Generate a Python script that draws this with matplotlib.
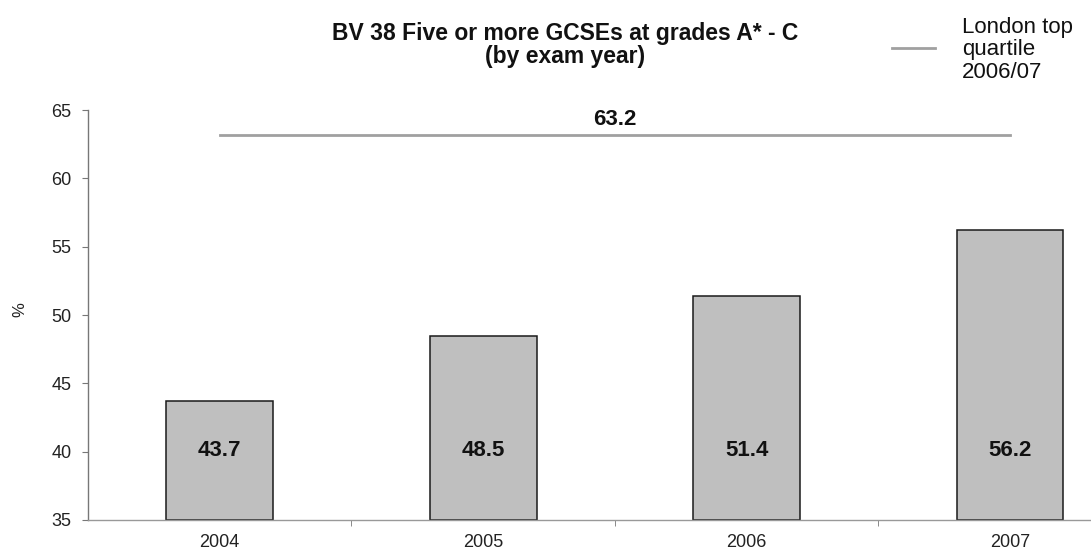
import matplotlib
matplotlib.use("Agg")
import matplotlib.pyplot as plt

plt.rcParams['font.family'] = ['Liberation Sans', 'DejaVu Sans']

years = ["2004", "2005", "2006", "2007"]
values = [43.7, 48.5, 51.4, 56.2]
quartile_value = 63.2
quartile_label = "London top\nquartile\n2006/07"
title = "BV 38 Five or more GCSEs at grades A* - C\n(by exam year)"
y_ticks = [35, 40, 45, 50, 55, 60, 65]

W, H = 1091, 555
fig = plt.figure(figsize=(W / 100, H / 100), dpi=100)
ax = fig.add_axes([88 / W, 35 / H, (W - 88) / W, 410 / H])

x = list(range(len(years)))
ax.bar(x, [v - 35 for v in values], bottom=35, width=0.405,
       color="#bfbfbf", edgecolor="#1a1a1a", linewidth=1.1, zorder=2)
ax.plot(x, [quartile_value] * len(x), color="#a0a0a0", linewidth=2.0, zorder=3)

for xi, v in zip(x, values):
    ax.text(xi, 40.12, f"{v}", ha="center", va="center",
            fontsize=16, fontweight="bold", color="#111111", zorder=4)
ax.text(1.5, quartile_value + 1.1, f"{quartile_value}", ha="center", va="center",
        fontsize=16, fontweight="bold", color="#111111")

ax.set_ylim(35, 65)
ax.set_xlim(-0.5, 3.307)
ax.set_yticks(y_ticks)
ax.set_yticklabels([str(t) for t in y_ticks], fontsize=13, color="#222222")
ax.set_xticks(x)
ax.set_xticklabels(years, fontsize=13, color="#222222")
ax.tick_params(axis="x", length=0, pad=10)
ax.set_xticks([0.5, 1.5, 2.5], minor=True)
ax.tick_params(axis="x", which="minor", length=4, direction="out", color="#777777")
ax.tick_params(axis="y", length=4, direction="out", color="#777777", pad=8)

for s in ["top", "right"]:
    ax.spines[s].set_visible(False)
ax.spines["left"].set_color("#777777")
ax.spines["bottom"].set_color("#999999")
ax.spines["left"].set_linewidth(1.0)
ax.spines["bottom"].set_linewidth(1.0)

fig.text(20 / W, 1 - 310 / H, "%", rotation=90, ha="center", va="center",
         fontsize=12, color="#222222")
fig.text(565 / W, 1 - 45 / H, title, ha="center", va="center",
         fontsize=16.5, fontweight="bold", color="#111111", linespacing=0.95)

fig.lines.append(plt.Line2D([892 / W, 935 / W], [1 - 48 / H, 1 - 48 / H],
                            transform=fig.transFigure, color="#a0a0a0", linewidth=2.0))
fig.text(962 / W, 1 - 50 / H, quartile_label, ha="left", va="center",
         fontsize=16, color="#111111", linespacing=1.08)

fig.savefig("out.png", dpi=100)
